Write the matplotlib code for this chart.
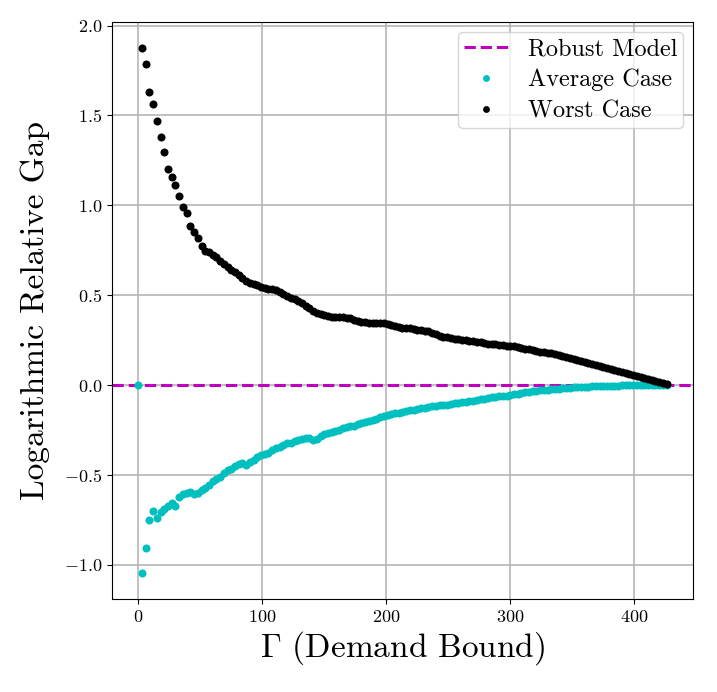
import numpy as np
import matplotlib
matplotlib.use('Agg')
import matplotlib.pyplot as plt

plt.rcParams['font.family'] = 'serif'
plt.rcParams['font.serif'] = ['cmr10']
plt.rcParams['mathtext.fontset'] = 'cm'
plt.rcParams['axes.formatter.use_mathtext'] = True

# demand bound values (step 3)
gamma_avg = np.arange(0, 427, 3)
gamma_worst = np.arange(3, 427, 3)

avg_case = [0.0,
    -1.044, -0.906, -0.751, -0.701, -0.740, -0.705, -0.690, -0.673, -0.655, -0.673,
    -0.620, -0.605, -0.598, -0.594, -0.607, -0.598, -0.585, -0.573, -0.553, -0.535,
    -0.522, -0.512, -0.490, -0.472, -0.468, -0.452, -0.440, -0.436, -0.443, -0.430,
    -0.418, -0.398, -0.390, -0.383, -0.375, -0.362, -0.352, -0.342, -0.331, -0.324,
    -0.320, -0.313, -0.307, -0.300, -0.294, -0.292, -0.305, -0.300, -0.282, -0.270,
    -0.266, -0.260, -0.256, -0.249, -0.240, -0.234, -0.229, -0.225, -0.218, -0.210,
    -0.206, -0.200, -0.194, -0.188, -0.180, -0.170, -0.166, -0.162, -0.158, -0.156,
    -0.148, -0.144, -0.136, -0.136, -0.132, -0.129, -0.125, -0.122, -0.118, -0.115,
    -0.113, -0.111, -0.108, -0.106, -0.102, -0.099, -0.096, -0.093, -0.090, -0.087,
    -0.083, -0.080, -0.076, -0.072, -0.068, -0.065, -0.062, -0.060, -0.058, -0.056,
    -0.052, -0.048, -0.045, -0.041, -0.038, -0.034, -0.031, -0.029, -0.027, -0.025,
    -0.023, -0.021, -0.019, -0.017, -0.016, -0.014, -0.013, -0.011, -0.010, -0.009,
    -0.008, -0.007, -0.006, -0.005, -0.005, -0.004, -0.004, -0.003, -0.003, -0.002,
    -0.002, -0.002, -0.001, -0.001, -0.001, -0.001, -0.001, 0.0, 0.0, 0.0,
    0.0, 0.0]

worst_case = [
    1.873, 1.786, 1.632, 1.562, 1.468, 1.381, 1.299, 1.201, 1.158, 1.112,
    1.053, 0.993, 0.957, 0.886, 0.853, 0.819, 0.771, 0.745, 0.740, 0.725,
    0.712, 0.690, 0.672, 0.657, 0.640, 0.627, 0.610, 0.595, 0.580, 0.568,
    0.562, 0.555, 0.548, 0.540, 0.535, 0.532, 0.528, 0.518, 0.506, 0.495,
    0.485, 0.478, 0.470, 0.457, 0.440, 0.428, 0.410, 0.400, 0.395, 0.390,
    0.383, 0.378, 0.378, 0.378, 0.377, 0.375, 0.372, 0.362, 0.356, 0.350,
    0.349, 0.348, 0.347, 0.346, 0.345, 0.343, 0.340, 0.333, 0.328, 0.323,
    0.320, 0.318, 0.317, 0.312, 0.309, 0.306, 0.303, 0.300, 0.292, 0.283,
    0.275, 0.270, 0.265, 0.261, 0.257, 0.254, 0.251, 0.249, 0.247, 0.243,
    0.240, 0.237, 0.233, 0.230, 0.228, 0.226, 0.225, 0.223, 0.220, 0.218,
    0.215, 0.212, 0.208, 0.203, 0.198, 0.193, 0.188, 0.186, 0.183, 0.180,
    0.177, 0.173, 0.169, 0.163, 0.156, 0.150, 0.145, 0.140, 0.135, 0.129,
    0.124, 0.118, 0.113, 0.108, 0.102, 0.097, 0.091, 0.085, 0.078, 0.073,
    0.068, 0.063, 0.058, 0.052, 0.047, 0.041, 0.036, 0.030, 0.024, 0.018,
    0.011, 0.004]

fig = plt.figure(figsize=(7.17, 6.92), dpi=100)
ax = fig.add_axes([0.156, 0.1344, 0.8105, 0.8336])

ax.axhline(0.0, color='m', ls='--', lw=2.2, label='Robust Model')
ax.plot(gamma_avg, avg_case, 'o', color='c', ms=5.8, mew=0, label='Average Case')
ax.plot(gamma_worst, worst_case, 'o', color='k', ms=5.8, mew=0, label='Worst Case')

ax.set_xticks([0, 100, 200, 300, 400])
ax.set_yticks([-1.0, -0.5, 0.0, 0.5, 1.0, 1.5, 2.0])
ax.tick_params(labelsize=13)
ax.grid(True, color='#b0b0b0', lw=1.1)
ax.set_xlabel(r'$\Gamma$ (Demand Bound)', fontsize=24, labelpad=3)
ax.set_ylabel('Logarithmic Relative Gap', fontsize=24, labelpad=10)
ax.legend(loc='upper right', fontsize=17.5, markerscale=0.85,
          borderaxespad=0.4, borderpad=0.25, labelspacing=0.36,
          handlelength=1.8, handletextpad=0.8)

fig.savefig('out.png', dpi=100)
